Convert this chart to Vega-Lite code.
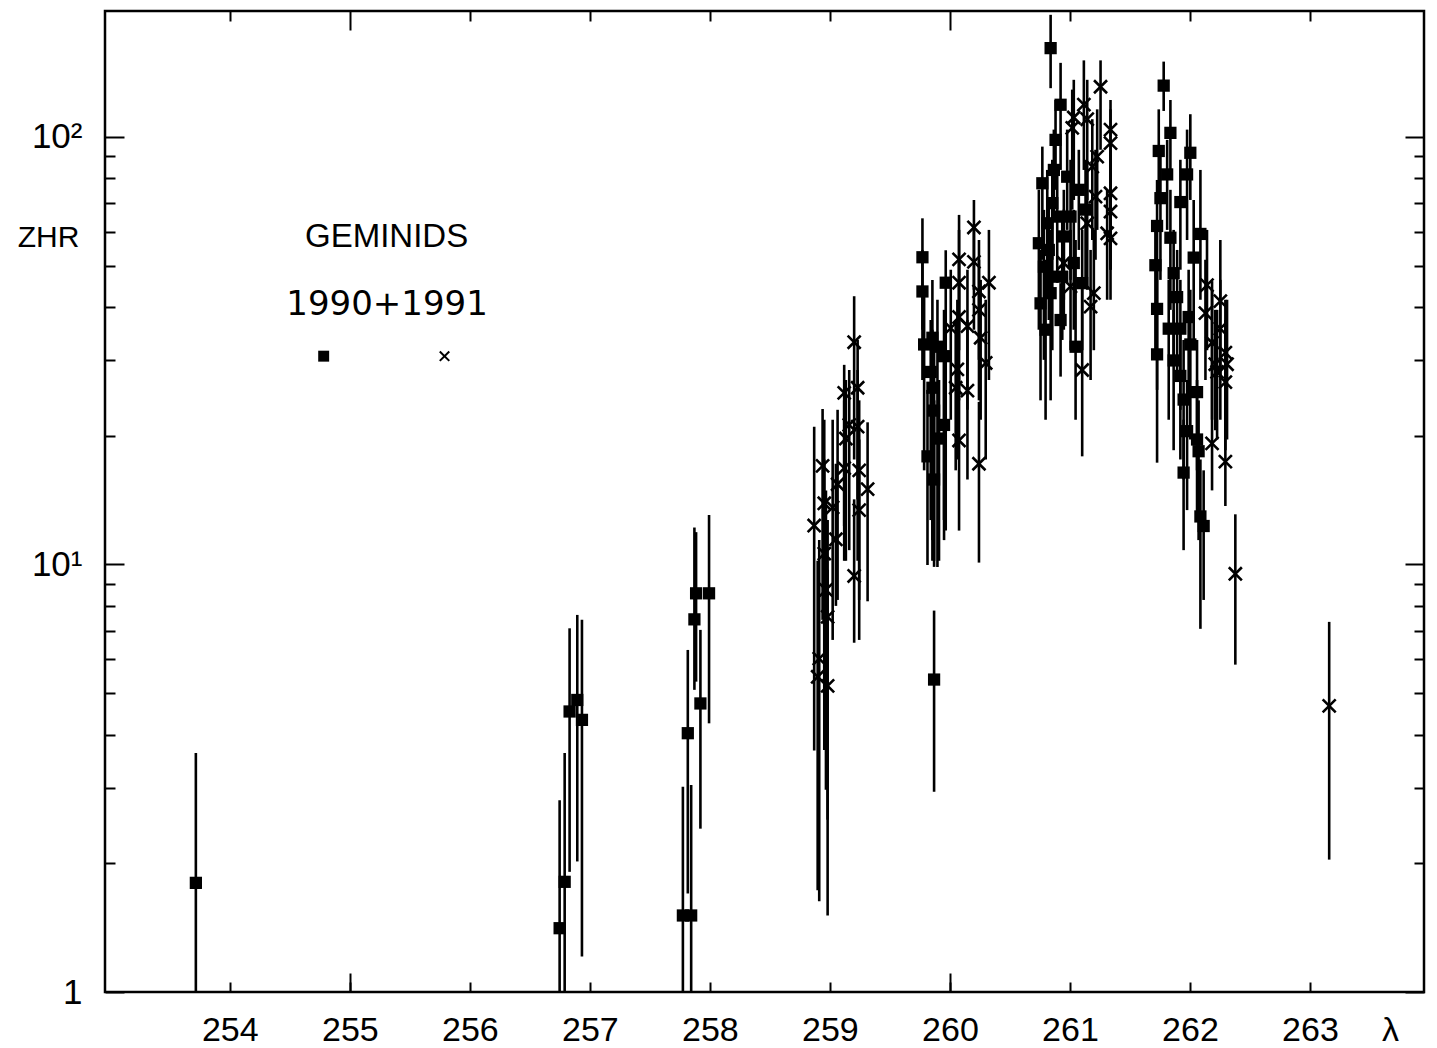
{
  "$schema": "https://vega.github.io/schema/vega-lite/v6.json",
  "width": 1319,
  "height": 981,
  "autosize": {"type": "none"},
  "padding": {"left": 105, "top": 11, "right": 13, "bottom": 56},
  "background": "white",
  "config": {
    "view": {"stroke": "black", "strokeWidth": 2.5},
    "axis": {"tickColor": "black", "tickWidth": 2, "labelColor": "black", "titleColor": "black", "grid": false, "domain": false, "labelFont": "Liberation Sans", "titleFont": "Liberation Sans", "titleFontWeight": "normal"}
  },
  "datasets": {
    "pts": [
      {"lam": 253.717, "zhr": 1.80, "lo": 0.5, "hi": 3.62, "yr": "1990"},
      {"lam": 256.748, "zhr": 1.41, "lo": 0.5, "hi": 2.81, "yr": "1990"},
      {"lam": 256.790, "zhr": 1.81, "lo": 0.5, "hi": 3.62, "yr": "1990"},
      {"lam": 256.831, "zhr": 4.53, "lo": 1.91, "hi": 7.09, "yr": "1990"},
      {"lam": 256.895, "zhr": 4.82, "lo": 2.02, "hi": 7.62, "yr": "1990"},
      {"lam": 256.934, "zhr": 4.33, "lo": 1.21, "hi": 7.42, "yr": "1990"},
      {"lam": 257.775, "zhr": 1.51, "lo": 0.5, "hi": 3.02, "yr": "1990"},
      {"lam": 257.844, "zhr": 1.51, "lo": 0.5, "hi": 3.05, "yr": "1990"},
      {"lam": 257.816, "zhr": 4.03, "lo": 1.70, "hi": 6.31, "yr": "1990"},
      {"lam": 257.871, "zhr": 7.44, "lo": 5.09, "hi": 12.2, "yr": "1990"},
      {"lam": 257.885, "zhr": 8.56, "lo": 5.32, "hi": 11.9, "yr": "1990"},
      {"lam": 257.993, "zhr": 8.56, "lo": 4.25, "hi": 13.05, "yr": "1990"},
      {"lam": 257.921, "zhr": 4.73, "lo": 2.41, "hi": 7.03, "yr": "1990"},
      {"lam": 259.771, "zhr": 52.3, "lo": 35.4, "hi": 64.5, "yr": "1990"},
      {"lam": 259.771, "zhr": 43.5, "lo": 27.0, "hi": 54.4, "yr": "1990"},
      {"lam": 259.785, "zhr": 32.7, "lo": 16.6, "hi": 43.9, "yr": "1990"},
      {"lam": 259.854, "zhr": 33.9, "lo": 10.2, "hi": 46.3, "yr": "1990"},
      {"lam": 259.896, "zhr": 32.3, "lo": 9.87, "hi": 41.6, "yr": "1990"},
      {"lam": 259.951, "zhr": 30.7, "lo": 11.4, "hi": 39.4, "yr": "1990"},
      {"lam": 259.840, "zhr": 28.2, "lo": 12.7, "hi": 37.3, "yr": "1990"},
      {"lam": 259.854, "zhr": 25.9, "lo": 11.4, "hi": 35.4, "yr": "1990"},
      {"lam": 259.868, "zhr": 22.9, "lo": 10.2, "hi": 31.7, "yr": "1990"},
      {"lam": 259.951, "zhr": 21.2, "lo": 12.7, "hi": 30.1, "yr": "1990"},
      {"lam": 259.909, "zhr": 19.7, "lo": 10.2, "hi": 27.0, "yr": "1990"},
      {"lam": 259.813, "zhr": 17.9, "lo": 9.97, "hi": 25.6, "yr": "1990"},
      {"lam": 259.868, "zhr": 15.8, "lo": 9.87, "hi": 24.2, "yr": "1990"},
      {"lam": 259.965, "zhr": 45.6, "lo": 12.0, "hi": 54.3, "yr": "1990"},
      {"lam": 259.868, "zhr": 5.38, "lo": 2.94, "hi": 7.80, "yr": "1990"},
      {"lam": 260.839, "zhr": 161.3, "lo": 130, "hi": 193, "yr": "1990"},
      {"lam": 260.922, "zhr": 118.9, "lo": 83.7, "hi": 149, "yr": "1990"},
      {"lam": 260.770, "zhr": 77.9, "lo": 51.6, "hi": 94.9, "yr": "1990"},
      {"lam": 260.741, "zhr": 56.4, "lo": 35.4, "hi": 75.2, "yr": "1990"},
      {"lam": 260.783, "zhr": 49.7, "lo": 30.1, "hi": 67.5, "yr": "1990"},
      {"lam": 260.839, "zhr": 43.1, "lo": 24.2, "hi": 60.6, "yr": "1990"},
      {"lam": 260.755, "zhr": 40.8, "lo": 24.2, "hi": 54.4, "yr": "1990"},
      {"lam": 260.797, "zhr": 35.4, "lo": 21.8, "hi": 51.6, "yr": "1990"},
      {"lam": 260.922, "zhr": 37.3, "lo": 27.5, "hi": 45.5, "yr": "1990"},
      {"lam": 261.047, "zhr": 32.3, "lo": 21.8, "hi": 57.4, "yr": "1990"},
      {"lam": 260.880, "zhr": 98.4, "lo": 75.2, "hi": 122, "yr": "1990"},
      {"lam": 260.866, "zhr": 83.7, "lo": 63.9, "hi": 104, "yr": "1990"},
      {"lam": 260.977, "zhr": 80.7, "lo": 60.6, "hi": 104, "yr": "1990"},
      {"lam": 260.894, "zhr": 65.1, "lo": 46.3, "hi": 83.7, "yr": "1990"},
      {"lam": 260.853, "zhr": 70.0, "lo": 51.6, "hi": 88.4, "yr": "1990"},
      {"lam": 260.811, "zhr": 62.8, "lo": 43.9, "hi": 83.7, "yr": "1990"},
      {"lam": 260.949, "zhr": 58.5, "lo": 41.6, "hi": 75.2, "yr": "1990"},
      {"lam": 261.032, "zhr": 50.7, "lo": 35.4, "hi": 67.5, "yr": "1990"},
      {"lam": 260.936, "zhr": 47.1, "lo": 33.5, "hi": 63.9, "yr": "1990"},
      {"lam": 261.102, "zhr": 45.5, "lo": 31.7, "hi": 60.6, "yr": "1990"},
      {"lam": 261.005, "zhr": 65.1, "lo": 46.3, "hi": 88.4, "yr": "1990"},
      {"lam": 261.074, "zhr": 75.2, "lo": 54.4, "hi": 93.3, "yr": "1990"},
      {"lam": 261.130, "zhr": 67.6, "lo": 46.3, "hi": 88.4, "yr": "1990"},
      {"lam": 260.824, "zhr": 54.4, "lo": 37.3, "hi": 71.2, "yr": "1990"},
      {"lam": 260.853, "zhr": 47.1, "lo": 31.7, "hi": 63.9, "yr": "1990"},
      {"lam": 261.781, "zhr": 131.8, "lo": 115, "hi": 150, "yr": "1990"},
      {"lam": 261.837, "zhr": 102.2, "lo": 83.7, "hi": 122, "yr": "1990"},
      {"lam": 262.003, "zhr": 91.8, "lo": 71.2, "hi": 113, "yr": "1990"},
      {"lam": 261.740, "zhr": 92.7, "lo": 71.2, "hi": 116, "yr": "1990"},
      {"lam": 261.810, "zhr": 81.7, "lo": 60.6, "hi": 98.4, "yr": "1990"},
      {"lam": 261.976, "zhr": 81.7, "lo": 57.4, "hi": 104, "yr": "1990"},
      {"lam": 261.754, "zhr": 71.9, "lo": 46.3, "hi": 93.3, "yr": "1990"},
      {"lam": 261.920, "zhr": 70.4, "lo": 48.9, "hi": 88.4, "yr": "1990"},
      {"lam": 261.726, "zhr": 61.9, "lo": 41.6, "hi": 79.3, "yr": "1990"},
      {"lam": 261.837, "zhr": 58.1, "lo": 39.4, "hi": 75.2, "yr": "1990"},
      {"lam": 262.087, "zhr": 59.3, "lo": 41.6, "hi": 83.7, "yr": "1990"},
      {"lam": 261.712, "zhr": 50.1, "lo": 31.7, "hi": 63.9, "yr": "1990"},
      {"lam": 261.864, "zhr": 48.0, "lo": 30.1, "hi": 60.6, "yr": "1990"},
      {"lam": 262.031, "zhr": 52.2, "lo": 33.5, "hi": 71.2, "yr": "1990"},
      {"lam": 261.726, "zhr": 39.6, "lo": 25.6, "hi": 51.6, "yr": "1990"},
      {"lam": 261.893, "zhr": 42.2, "lo": 27.0, "hi": 54.4, "yr": "1990"},
      {"lam": 261.823, "zhr": 35.6, "lo": 21.8, "hi": 46.3, "yr": "1990"},
      {"lam": 261.726, "zhr": 31.0, "lo": 17.3, "hi": 41.6, "yr": "1990"},
      {"lam": 261.864, "zhr": 30.0, "lo": 18.5, "hi": 39.4, "yr": "1990"},
      {"lam": 262.003, "zhr": 32.7, "lo": 19.6, "hi": 43.9, "yr": "1990"},
      {"lam": 261.920, "zhr": 27.6, "lo": 17.6, "hi": 35.4, "yr": "1990"},
      {"lam": 261.947, "zhr": 24.3, "lo": 15.8, "hi": 33.5, "yr": "1990"},
      {"lam": 262.059, "zhr": 25.3, "lo": 16.6, "hi": 33.5, "yr": "1990"},
      {"lam": 261.976, "zhr": 20.5, "lo": 13.4, "hi": 27.0, "yr": "1990"},
      {"lam": 262.059, "zhr": 19.6, "lo": 12.7, "hi": 27.0, "yr": "1990"},
      {"lam": 261.947, "zhr": 16.4, "lo": 10.8, "hi": 21.8, "yr": "1990"},
      {"lam": 262.087, "zhr": 12.95, "lo": 7.07, "hi": 17.6, "yr": "1990"},
      {"lam": 262.114, "zhr": 12.3, "lo": 8.26, "hi": 16.6, "yr": "1990"},
      {"lam": 262.072, "zhr": 18.4, "lo": 11.4, "hi": 24.2, "yr": "1990"},
      {"lam": 261.989, "zhr": 37.9, "lo": 24.2, "hi": 48.9, "yr": "1990"},
      {"lam": 261.920, "zhr": 35.6, "lo": 23.0, "hi": 46.3, "yr": "1990"},
      {"lam": 258.869, "zhr": 12.33, "lo": 3.67, "hi": 21.0, "yr": "1991"},
      {"lam": 258.939, "zhr": 17.0, "lo": 7.42, "hi": 23.1, "yr": "1991"},
      {"lam": 258.953, "zhr": 13.9, "lo": 5.37, "hi": 21.8, "yr": "1991"},
      {"lam": 258.953, "zhr": 10.6, "lo": 3.68, "hi": 17.6, "yr": "1991"},
      {"lam": 258.911, "zhr": 6.02, "lo": 1.63, "hi": 11.4, "yr": "1991"},
      {"lam": 258.898, "zhr": 5.46, "lo": 1.73, "hi": 10.2, "yr": "1991"},
      {"lam": 258.981, "zhr": 5.20, "lo": 1.51, "hi": 9.72, "yr": "1991"},
      {"lam": 258.981, "zhr": 7.54, "lo": 2.53, "hi": 12.7, "yr": "1991"},
      {"lam": 258.967, "zhr": 8.72, "lo": 2.97, "hi": 14.9, "yr": "1991"},
      {"lam": 259.023, "zhr": 13.6, "lo": 6.66, "hi": 21.8, "yr": "1991"},
      {"lam": 259.050, "zhr": 11.45, "lo": 8.0, "hi": 17.2, "yr": "1991"},
      {"lam": 259.064, "zhr": 15.4, "lo": 8.26, "hi": 23.0, "yr": "1991"},
      {"lam": 259.119, "zhr": 25.2, "lo": 12.3, "hi": 29.3, "yr": "1991"},
      {"lam": 259.133, "zhr": 19.7, "lo": 10.2, "hi": 27.0, "yr": "1991"},
      {"lam": 259.161, "zhr": 21.2, "lo": 10.8, "hi": 28.5, "yr": "1991"},
      {"lam": 259.202, "zhr": 33.1, "lo": 17.6, "hi": 42.4, "yr": "1991"},
      {"lam": 259.231, "zhr": 25.9, "lo": 14.2, "hi": 33.5, "yr": "1991"},
      {"lam": 259.231, "zhr": 21.0, "lo": 10.2, "hi": 28.5, "yr": "1991"},
      {"lam": 259.244, "zhr": 16.6, "lo": 8.26, "hi": 24.2, "yr": "1991"},
      {"lam": 259.244, "zhr": 13.4, "lo": 6.66, "hi": 19.6, "yr": "1991"},
      {"lam": 259.202, "zhr": 9.40, "lo": 6.56, "hi": 14.2, "yr": "1991"},
      {"lam": 259.314, "zhr": 15.0, "lo": 8.2, "hi": 21.5, "yr": "1991"},
      {"lam": 259.119, "zhr": 16.8, "lo": 10.2, "hi": 24.2, "yr": "1991"},
      {"lam": 260.076, "zhr": 51.7, "lo": 35.4, "hi": 65.7, "yr": "1991"},
      {"lam": 260.076, "zhr": 45.6, "lo": 31.7, "hi": 60.6, "yr": "1991"},
      {"lam": 260.007, "zhr": 35.7, "lo": 21.8, "hi": 48.9, "yr": "1991"},
      {"lam": 260.076, "zhr": 37.9, "lo": 24.2, "hi": 51.6, "yr": "1991"},
      {"lam": 260.146, "zhr": 36.1, "lo": 23.0, "hi": 48.9, "yr": "1991"},
      {"lam": 260.062, "zhr": 28.6, "lo": 17.6, "hi": 41.6, "yr": "1991"},
      {"lam": 260.048, "zhr": 25.9, "lo": 16.6, "hi": 37.3, "yr": "1991"},
      {"lam": 260.146, "zhr": 25.5, "lo": 15.8, "hi": 37.3, "yr": "1991"},
      {"lam": 260.076, "zhr": 19.5, "lo": 12.0, "hi": 28.5, "yr": "1991"},
      {"lam": 260.200, "zhr": 61.4, "lo": 43.9, "hi": 71.2, "yr": "1991"},
      {"lam": 260.200, "zhr": 51.0, "lo": 35.4, "hi": 62.3, "yr": "1991"},
      {"lam": 260.242, "zhr": 43.5, "lo": 30.1, "hi": 57.4, "yr": "1991"},
      {"lam": 260.325, "zhr": 45.6, "lo": 27.0, "hi": 60.6, "yr": "1991"},
      {"lam": 260.256, "zhr": 33.9, "lo": 21.8, "hi": 46.3, "yr": "1991"},
      {"lam": 260.242, "zhr": 39.4, "lo": 24.2, "hi": 51.6, "yr": "1991"},
      {"lam": 260.298, "zhr": 29.6, "lo": 17.6, "hi": 41.6, "yr": "1991"},
      {"lam": 260.242, "zhr": 17.2, "lo": 10.1, "hi": 24.0, "yr": "1991"},
      {"lam": 261.255, "zhr": 131, "lo": 93.3, "hi": 151, "yr": "1991"},
      {"lam": 261.116, "zhr": 119, "lo": 83.7, "hi": 151, "yr": "1991"},
      {"lam": 261.032, "zhr": 111, "lo": 71.2, "hi": 136, "yr": "1991"},
      {"lam": 261.019, "zhr": 105, "lo": 67.6, "hi": 129, "yr": "1991"},
      {"lam": 261.144, "zhr": 110, "lo": 71.2, "hi": 136, "yr": "1991"},
      {"lam": 261.338, "zhr": 104, "lo": 48.9, "hi": 122, "yr": "1991"},
      {"lam": 261.338, "zhr": 96.7, "lo": 63.9, "hi": 116, "yr": "1991"},
      {"lam": 261.227, "zhr": 89.9, "lo": 60.6, "hi": 116, "yr": "1991"},
      {"lam": 261.186, "zhr": 85.2, "lo": 57.4, "hi": 110, "yr": "1991"},
      {"lam": 261.338, "zhr": 73.8, "lo": 54.4, "hi": 93.3, "yr": "1991"},
      {"lam": 261.338, "zhr": 66.9, "lo": 48.9, "hi": 88.4, "yr": "1991"},
      {"lam": 261.338, "zhr": 57.9, "lo": 41.6, "hi": 75.2, "yr": "1991"},
      {"lam": 261.310, "zhr": 59.5, "lo": 41.6, "hi": 75.2, "yr": "1991"},
      {"lam": 261.213, "zhr": 72.5, "lo": 51.6, "hi": 93.3, "yr": "1991"},
      {"lam": 261.144, "zhr": 62.8, "lo": 43.9, "hi": 83.7, "yr": "1991"},
      {"lam": 261.199, "zhr": 43.1, "lo": 31.7, "hi": 60.6, "yr": "1991"},
      {"lam": 261.172, "zhr": 40.1, "lo": 27.0, "hi": 54.4, "yr": "1991"},
      {"lam": 261.102, "zhr": 28.5, "lo": 17.9, "hi": 44.7, "yr": "1991"},
      {"lam": 261.005, "zhr": 44.7, "lo": 31.7, "hi": 60.6, "yr": "1991"},
      {"lam": 260.949, "zhr": 50.7, "lo": 35.4, "hi": 67.6, "yr": "1991"},
      {"lam": 262.142, "zhr": 45.0, "lo": 31.7, "hi": 60.6, "yr": "1991"},
      {"lam": 262.253, "zhr": 41.3, "lo": 27.0, "hi": 57.4, "yr": "1991"},
      {"lam": 262.295, "zhr": 31.3, "lo": 21.8, "hi": 41.6, "yr": "1991"},
      {"lam": 262.309, "zhr": 29.4, "lo": 19.6, "hi": 41.6, "yr": "1991"},
      {"lam": 262.211, "zhr": 29.4, "lo": 20.6, "hi": 39.4, "yr": "1991"},
      {"lam": 262.295, "zhr": 26.7, "lo": 18.5, "hi": 37.3, "yr": "1991"},
      {"lam": 262.184, "zhr": 33.0, "lo": 21.8, "hi": 43.9, "yr": "1991"},
      {"lam": 262.226, "zhr": 28.2, "lo": 19.6, "hi": 39.4, "yr": "1991"},
      {"lam": 262.184, "zhr": 19.2, "lo": 14.9, "hi": 46.0, "yr": "1991"},
      {"lam": 262.295, "zhr": 17.4, "lo": 13.7, "hi": 24.2, "yr": "1991"},
      {"lam": 262.378, "zhr": 9.51, "lo": 5.83, "hi": 13.1, "yr": "1991"},
      {"lam": 262.129, "zhr": 38.7, "lo": 27.0, "hi": 51.6, "yr": "1991"},
      {"lam": 262.253, "zhr": 35.6, "lo": 21.8, "hi": 46.3, "yr": "1991"},
      {"lam": 263.160, "zhr": 4.67, "lo": 2.04, "hi": 7.34, "yr": "1991"}
    ],
    "legend": [
      {"lam": 254.782, "zhr": 30.7, "yr": "1990"},
      {"lam": 255.789, "zhr": 30.7, "yr": "1991"}
    ],
    "title1": [{"lam": 255.306, "zhr": 58.3, "text": "GEMINIDS"}],
    "title2": [{"lam": 255.31, "zhr": 40.5, "text": "1990+1991"}]
  },
  "resolve": {"scale": {"x": "shared", "y": "shared"}, "axis": {"x": "independent", "y": "independent"}},
  "layer": [
    {
      "data": {"name": "pts"},
      "mark": {"type": "rule", "color": "black", "strokeWidth": 2.6, "clip": true},
      "encoding": {
        "x": {"field": "lam", "type": "quantitative",
          "scale": {"domain": [252.96, 263.95], "nice": false, "zero": false},
          "axis": {"orient": "bottom", "values": [254, 255, 256, 257, 258, 259, 260, 261, 262, 263], "tickSize": -10, "labelPadding": 58, "labelBaseline": "alphabetic", "labelFontSize": 34, "labelFlush": false, "labelOverlap": false,
            "title": "λ", "titleFontSize": 34, "titleX": 1285, "titleY": 48, "titleBaseline": "alphabetic", "titleAlign": "center"}},
        "y": {"field": "lo", "type": "quantitative",
          "scale": {"type": "log", "domain": [1, 197], "nice": false},
          "axis": {"orient": "left", "values": [1, 10, 100], "tickSize": -19, "labelPadding": 42, "labelFontSize": 35, "labelOverlap": false, "labelFlush": false,
            "labelExpr": "datum.value == 1 ? '1' : datum.value == 10 ? '10¹' : '10²'",
            "title": "ZHR", "titleAngle": 0, "titleX": -57, "titleY": 226, "titleAlign": "center", "titleBaseline": "middle", "titleFontSize": 30}},
        "y2": {"field": "hi"}
      }
    },
    {
      "data": {"name": "pts"},
      "transform": [{"filter": "datum.yr == '1990'"}],
      "mark": {"type": "point", "shape": "square", "filled": true, "color": "black", "opacity": 1, "size": 150, "clip": true},
      "encoding": {
        "x": {"field": "lam", "type": "quantitative",
          "axis": {"orient": "bottom", "values": [255, 260], "tickSize": -19, "labels": false, "title": null}},
        "y": {"field": "zhr", "type": "quantitative",
          "axis": {"orient": "left", "values": [2, 3, 4, 5, 6, 7, 8, 9, 20, 30, 40, 50, 60, 70, 80, 90], "tickSize": -10, "labels": false, "title": null}}
      }
    },
    {
      "data": {"name": "pts"},
      "transform": [{"filter": "datum.yr == '1991'"}],
      "mark": {"type": "point", "shape": "M-1,-1L1,1M-1,1L1,-1", "filled": false, "color": "black", "opacity": 1, "strokeWidth": 2.6, "size": 170, "clip": true},
      "encoding": {
        "x": {"field": "lam", "type": "quantitative",
          "axis": {"orient": "top", "values": [254, 256, 257, 258, 259, 261, 262, 263], "tickSize": -10, "labels": false, "title": null}},
        "y": {"field": "zhr", "type": "quantitative",
          "axis": {"orient": "right", "values": [1, 10, 100], "tickSize": -19, "labels": false, "title": null}}
      }
    },
    {
      "data": {"name": "legend"},
      "transform": [{"filter": "datum.yr == '1990'"}],
      "mark": {"type": "point", "shape": "square", "filled": true, "color": "black", "opacity": 1, "size": 120},
      "encoding": {
        "x": {"field": "lam", "type": "quantitative",
          "axis": {"orient": "top", "values": [255, 260], "tickSize": -19, "labels": false, "title": null}},
        "y": {"field": "zhr", "type": "quantitative",
          "axis": {"orient": "right", "values": [2, 3, 4, 5, 6, 7, 8, 9, 20, 30, 40, 50, 60, 70, 80, 90], "tickSize": -10, "labels": false, "title": null}}
      }
    },
    {
      "data": {"name": "legend"},
      "transform": [{"filter": "datum.yr == '1991'"}],
      "mark": {"type": "point", "shape": "M-1,-1L1,1M-1,1L1,-1", "filled": false, "color": "black", "opacity": 1, "strokeWidth": 2, "size": 90},
      "encoding": {
        "x": {"field": "lam", "type": "quantitative", "axis": null},
        "y": {"field": "zhr", "type": "quantitative", "axis": null}
      }
    },
    {
      "data": {"name": "title1"},
      "mark": {"type": "text", "color": "black", "align": "center", "baseline": "middle", "font": "Liberation Sans", "fontSize": 33},
      "encoding": {
        "x": {"field": "lam", "type": "quantitative", "axis": null},
        "y": {"field": "zhr", "type": "quantitative", "axis": null},
        "text": {"field": "text"}
      }
    },
    {
      "data": {"name": "title2"},
      "mark": {"type": "text", "color": "black", "align": "center", "baseline": "middle", "font": "DejaVu Sans", "fontSize": 34},
      "encoding": {
        "x": {"field": "lam", "type": "quantitative", "axis": null},
        "y": {"field": "zhr", "type": "quantitative", "axis": null},
        "text": {"field": "text"}
      }
    }
  ]
}
